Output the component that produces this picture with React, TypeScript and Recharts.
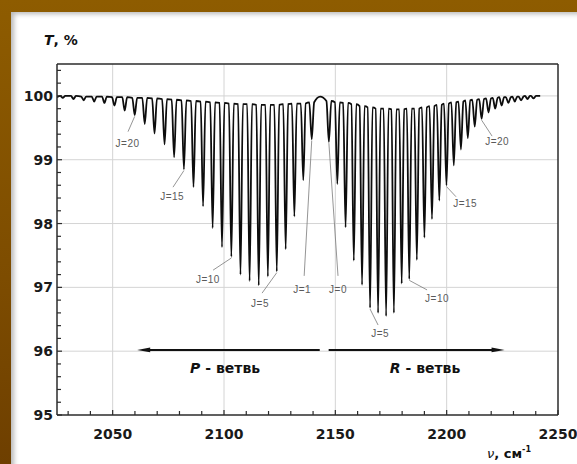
import React from 'react';
import { LineChart, Line, XAxis, YAxis, ReferenceLine, ReferenceDot } from 'recharts';

// P-branch lines, J = 1..27: position (cm-1), transmission at line bottom, level of the arches beside it
const pNu = [2139.4, 2135.6, 2131.6, 2127.7, 2123.7, 2119.7, 2115.6, 2111.5, 2107.4, 2103.3, 2099.1, 2094.9, 2090.6, 2086.3, 2082.0, 2077.6, 2073.3, 2068.8, 2064.4, 2059.9, 2055.4, 2050.8, 2046.3, 2041.7, 2037.0, 2032.4, 2027.6];
const pMin = [99.32, 98.68, 98.11, 97.6, 97.25, 97.17, 97.03, 97.1, 97.2, 97.48, 97.63, 97.93, 98.27, 98.57, 98.85, 99.04, 99.24, 99.41, 99.56, 99.7, 99.77, 99.85, 99.89, 99.91, 99.93, 99.95, 99.97];
const pTop = [99.9, 99.88, 99.88, 99.87, 99.86, 99.86, 99.86, 99.87, 99.87, 99.88, 99.89, 99.9, 99.91, 99.92, 99.93, 99.94, 99.95, 99.96, 99.97, 99.97, 99.98, 99.98, 99.99, 99.99, 99.99, 100, 100];

// R-branch lines, J = 0..28
const rNu = [2147.1, 2150.9, 2154.6, 2158.3, 2162.0, 2165.6, 2169.2, 2172.8, 2176.3, 2179.8, 2183.2, 2186.6, 2190.0, 2193.4, 2196.7, 2199.9, 2203.2, 2206.4, 2209.5, 2212.6, 2215.7, 2218.8, 2221.8, 2224.7, 2227.7, 2230.6, 2233.4, 2236.3, 2239.0];
const rMin = [99.28, 98.62, 97.94, 97.42, 97.04, 96.68, 96.6, 96.55, 96.6, 97.06, 97.13, 97.43, 97.78, 98.07, 98.36, 98.6, 98.91, 99.16, 99.34, 99.52, 99.64, 99.74, 99.8, 99.85, 99.89, 99.91, 99.93, 99.95, 99.96];
const rTop = [99.92, 99.9, 99.89, 99.87, 99.84, 99.82, 99.8, 99.8, 99.79, 99.79, 99.8, 99.8, 99.82, 99.84, 99.86, 99.88, 99.9, 99.91, 99.93, 99.94, 99.95, 99.96, 99.97, 99.98, 99.98, 99.99, 99.99, 100, 100];

// line-free parts of the trace: left edge, band centre, right end
const contNu = [2025, 2143.2, 2242];
const contT = [99.98, 99.99, 100];

// J annotations: text centre and the end of the leader at the text
const labelBranch = ['P', 'P', 'P', 'P', 'P', 'R', 'R', 'R', 'R', 'R'];
const labelJ = [20, 15, 10, 5, 1, 0, 5, 10, 15, 20];
const labelNu = [2056.7, 2076.7, 2092.8, 2116.2, 2135.1, 2151.2, 2170.1, 2195.7, 2208.3, 2222.7];
const labelT = [99.26, 98.42, 97.12, 96.74, 96.97, 96.97, 96.27, 96.83, 98.31, 99.28];
const leaderNu = [2056.9, 2077.1, 2095.1, 2117.1, 2136.0, 2151.2, 2169.2, 2191.2, 2204.2, 2220.4];
const leaderT = [99.44, 98.57, 97.27, 96.91, 97.18, 97.18, 96.41, 96.96, 98.42, 99.37];

// branch arrows and their captions
const arrowFrom = [2143, 2147];
const arrowTo = [2061, 2226];
const arrowT = 96.02;
const branchNames = ['P', 'R'];
const branchNu = [2100.5, 2190.3];
const branchT = 95.73;

const xMajor = [2050, 2100, 2150, 2200, 2250];
const yMajor = [95, 96, 97, 98, 99, 100];
const xGrid = [2050, 2100, 2150, 2200];
const yGrid = [96, 97, 98, 99, 100];
const xTicks: number[] = [];
for (let v = 2030; v <= 2250; v += 10) xTicks.push(v);
const yTicks: number[] = [];
for (let i = 0; i <= 27; i++) yTicks.push(Math.round((95 + i * 0.2) * 10) / 10);

const HALF = 1.1; // half width of a line at its shoulders, cm-1

const data: { nu: number; t: number }[] = [];
pNu.forEach((nu, i) => {
  data.push({ nu: nu - HALF, t: pTop[i] }, { nu, t: pMin[i] }, { nu: nu + HALF, t: pTop[i] });
});
rNu.forEach((nu, i) => {
  data.push({ nu: nu - HALF, t: rTop[i] }, { nu, t: rMin[i] }, { nu: nu + HALF, t: rTop[i] });
});
contNu.forEach((nu, i) => data.push({ nu, t: contT[i] }));
data.sort((a, b) => a.nu - b.nu);

const AXIS = '#2b2b2b';
const GRID = '#d4d4d4';
const TICK_FONT = '"DejaVu Sans", sans-serif';

const XTick = (props: any) => {
  const { x, y, payload } = props;
  const major = xMajor.includes(payload.value);
  return (
    <g>
      <line x1={x} y1={y} x2={x} y2={y - (major ? 5 : 4)} stroke={AXIS} strokeWidth={1.2} />
      {major && (
        <text x={x} y={y + 19} textAnchor="middle" dominantBaseline="central"
          fontFamily={TICK_FONT} fontWeight="bold" fontSize={14} fill="#1a1a1a">
          {payload.value}
        </text>
      )}
    </g>
  );
};

const YTick = (props: any) => {
  const { x, y, payload } = props;
  const major = yMajor.some((m) => Math.abs(m - payload.value) < 1e-6);
  return (
    <g>
      <line x1={x} y1={y} x2={x + (major ? 5 : 4)} y2={y} stroke={AXIS} strokeWidth={1.2} />
      {major && (
        <text x={x - 4} y={y} textAnchor="end" dominantBaseline="central"
          fontFamily={TICK_FONT} fontWeight="bold" fontSize={14} fill="#1a1a1a">
          {payload.value}
        </text>
      )}
    </g>
  );
};

const Arrow = (props: any) => {
  const { x1, y1, x2, y2 } = props;
  const dir = x2 > x1 ? 1 : -1;
  return (
    <g>
      <line x1={x1} y1={y1} x2={x2 - dir * 6} y2={y2} stroke="#111" strokeWidth={2} />
      <polygon points={`${x2},${y2} ${x2 - dir * 13},${y2 - 2.4} ${x2 - dir * 13},${y2 + 2.4}`} fill="#111" />
    </g>
  );
};

const dipOf = (branch: string, j: number) =>
  branch === 'P' ? { nu: pNu[j - 1], t: pMin[j - 1] } : { nu: rNu[j], t: rMin[j] };

export default function App() {
  return (
    <div style={{ position: 'fixed', left: 0, top: 0, width: 577, height: 464, overflow: 'hidden',
      background: 'linear-gradient(180deg, #8e5c00 0%, #7d4c00 60%, #6e3f00 100%)' }}>
      <div style={{ position: 'absolute', left: 11, top: 12, width: 566, height: 452, background: '#fff',
        boxShadow: 'inset 5px 4px 5px -2px rgba(0,0,0,0.28)' }} />
      <div style={{ position: 'absolute', left: 0, top: 0 }}>
        <LineChart width={577} height={464} data={data} margin={{ top: 64, right: 19, bottom: 0, left: 0 }}>
          <XAxis type="number" dataKey="nu" domain={[2025, 2250]} ticks={xTicks} interval={0}
            allowDataOverflow height={49} tickSize={0} tickMargin={0} tick={<XTick />}
            axisLine={{ stroke: AXIS, strokeWidth: 1.5 }} />
          <YAxis type="number" domain={[95, 100.5]} ticks={yTicks} interval={0}
            allowDataOverflow width={57} tickSize={0} tickMargin={0} tick={<YTick />}
            axisLine={{ stroke: AXIS, strokeWidth: 1.5 }} />
          {xGrid.map((v) => (
            <ReferenceLine key={'gx' + v} x={v} stroke={GRID} strokeWidth={1} />
          ))}
          {yGrid.map((v) => (
            <ReferenceLine key={'gy' + v} y={v} stroke={GRID} strokeWidth={1} />
          ))}
          <ReferenceLine y={100.5} stroke={AXIS} strokeWidth={1.5} ifOverflow="visible" />
          <ReferenceLine x={2250} stroke={AXIS} strokeWidth={1.5} ifOverflow="visible" />
          {labelJ.map((j, i) => {
            const dip = dipOf(labelBranch[i], j);
            return (
              <ReferenceLine key={'ld' + i} stroke="#7a7a7a" strokeWidth={0.8} ifOverflow="visible"
                segment={[{ x: leaderNu[i], y: leaderT[i] }, { x: dip.nu, y: dip.t - 0.02 }]} />
            );
          })}
          {labelJ.map((j, i) => (
            <ReferenceDot key={'lb' + i} x={labelNu[i]} y={labelT[i]} ifOverflow="visible"
              shape={(p: any) => (
                <text x={p.cx} y={p.cy} textAnchor="middle" dominantBaseline="central"
                  fontFamily='"Liberation Sans", Arial, sans-serif' fontSize={10} letterSpacing={0.5} fill="#5a5a5a">
                  {`J=${j}`}
                </text>
              )} />
          ))}
          {arrowFrom.map((a, i) => (
            <ReferenceLine key={'ar' + i} ifOverflow="visible" shape={<Arrow />}
              segment={[{ x: a, y: arrowT }, { x: arrowTo[i], y: arrowT }]} />
          ))}
          {branchNames.map((b, i) => (
            <ReferenceDot key={'bn' + i} x={branchNu[i]} y={branchT} ifOverflow="visible"
              shape={(p: any) => (
                <text x={p.cx} y={p.cy} textAnchor="middle" dominantBaseline="central"
                  fontFamily={TICK_FONT} fontWeight="bold" fontSize={14} fill="#111">
                  <tspan fontStyle="italic">{b}</tspan>
                  {' - ветвь'}
                </text>
              )} />
          ))}
          <Line type="monotone" dataKey="t" stroke="#0d0d0d" strokeWidth={1.8} dot={false}
            isAnimationActive={false} />
        </LineChart>
      </div>
      <div style={{ position: 'absolute', left: 44, top: 31, fontFamily: TICK_FONT, fontWeight: 'bold',
        fontSize: 14, color: '#111', lineHeight: '18px' }}>
        <i>T</i>, %
      </div>
      <div style={{ position: 'absolute', left: 487, top: 446, fontFamily: TICK_FONT, fontWeight: 'bold',
        fontSize: 13, color: '#111', lineHeight: '16px', whiteSpace: 'nowrap' }}>
        <i style={{ fontWeight: 'normal' }}>ν</i>, см<sup style={{ fontSize: 8, verticalAlign: 'top', lineHeight: '8px' }}>-1</sup>
      </div>
    </div>
  );
}
